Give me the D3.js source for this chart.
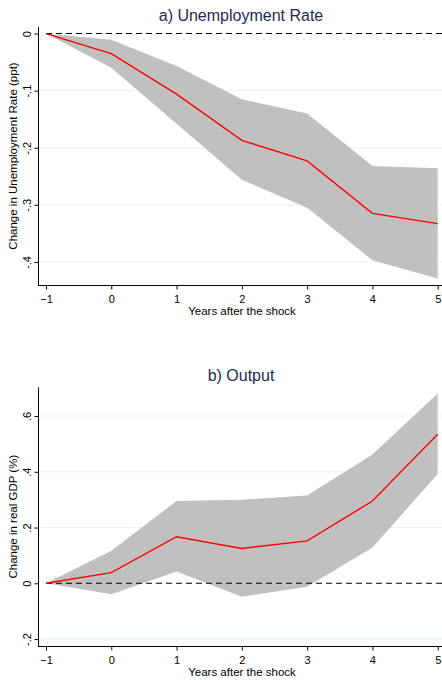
<!DOCTYPE html>
<html><head><meta charset="utf-8">
<script src="https://cdn.jsdelivr.net/npm/d3@7"></script>
<style>body{margin:0;background:#fff}svg{display:block}text{font-family:"Liberation Sans",Arial,sans-serif}</style>
</head><body>
<svg id="c" width="442" height="680"></svg>
<script>
const years = [-1, 0, 1, 2, 3, 4, 5];
const xTicks = [-1, 0, 1, 2, 3, 4, 5];

const unempMean  = [0, -0.035, -0.106, -0.187, -0.223, -0.315, -0.333];
const unempUpper = [0, -0.011, -0.057, -0.115, -0.140, -0.232, -0.236];
const unempLower = [0, -0.060, -0.158, -0.256, -0.305, -0.397, -0.429];
const unempTicks = [0, -0.1, -0.2, -0.3, -0.4];
const unempTickLabels = ["0", "-.1", "-.2", "-.3", "-.4"];

const gdpMean  = [0, 0.038, 0.167, 0.125, 0.152, 0.295, 0.535];
const gdpUpper = [0, 0.117, 0.295, 0.300, 0.315, 0.462, 0.681];
const gdpLower = [0, -0.039, 0.042, -0.048, -0.012, 0.128, 0.392];
const gdpTicks = [-0.2, 0, 0.2, 0.4, 0.6];
const gdpTickLabels = ["-.2", "0", ".2", ".4", ".6"];

const svg = d3.select("#c");

function panel(cfg) {
  const g = svg.append("g");
  const x = d3.scaleLinear().domain([-1, 5]).range([46, 437.7]);
  const y = d3.scaleLinear().domain(cfg.ydom).range([cfg.bottom, cfg.top]);
  const axisX = 38.5;

  // gridlines
  g.selectAll("line.grid").data(cfg.ticks.filter(t => t !== 0)).enter().append("line")
    .attr("x1", axisX).attr("x2", 442)
    .attr("y1", d => y(d)).attr("y2", d => y(d))
    .attr("stroke", "#eaf2f3").attr("stroke-width", 1);

  const data = years.map((yr, i) => ({yr, m: cfg.mean[i], lo: cfg.lower[i], hi: cfg.upper[i]}));

  // band
  g.append("path").datum(data)
    .attr("d", d3.area().x(d => x(d.yr)).y0(d => y(d.lo)).y1(d => y(d.hi)))
    .attr("fill", "#c0c0c0");

  // zero dashed line
  g.append("line")
    .attr("x1", x(-1)).attr("x2", 442)
    .attr("y1", y(0)).attr("y2", y(0))
    .attr("stroke", "#000").attr("stroke-width", 1.1)
    .attr("stroke-dasharray", "6,4");

  // mean line
  g.append("path").datum(data)
    .attr("d", d3.line().x(d => x(d.yr)).y(d => y(d.m)))
    .attr("fill", "none").attr("stroke", "#ff0000").attr("stroke-width", 1.4);

  // x axis
  const xa = g.append("g").attr("transform", `translate(0,${cfg.bottom + 0.5})`)
    .call(d3.axisBottom(x).tickValues(xTicks).tickSize(4).tickSizeOuter(0).tickFormat(d3.format("d")));
  xa.select(".domain").attr("d", `M${axisX - 0.5},0H442`).attr("stroke", "#000");
  xa.selectAll(".tick line").attr("stroke", "#000");
  xa.selectAll(".tick text").attr("font-size", 11).attr("fill", "#000").attr("dy", null).attr("y", 17)
    .attr("font-family", "Liberation Sans, Arial, sans-serif");

  // y axis
  const ya = g.append("g").attr("transform", `translate(${axisX},0)`)
    .call(d3.axisLeft(y).tickValues(cfg.ticks).tickSize(4).tickSizeOuter(0)
      .tickFormat((d) => cfg.tickLabels[cfg.ticks.indexOf(d)]));
  ya.select(".domain").attr("d", `M0,${cfg.top}V${cfg.bottom + 1}`).attr("stroke", "#000");
  ya.selectAll(".tick line").attr("stroke", "#000");
  ya.selectAll(".tick text").attr("font-size", 11).attr("fill", "#000")
    .attr("x", null).attr("dy", null)
    .attr("text-anchor", "middle")
    .attr("transform", "translate(-8,0) rotate(-90)")
    .attr("font-family", "Liberation Sans, Arial, sans-serif");

  // y title
  g.append("text")
    .attr("transform", `translate(16.5,${(cfg.top + cfg.bottom) / 2}) rotate(-90)`)
    .attr("text-anchor", "middle").attr("font-size", 11.5).attr("fill", "#000")
    .text(cfg.ytitle);

  // x title
  g.append("text")
    .attr("x", 242).attr("y", cfg.bottom + 30)
    .attr("text-anchor", "middle").attr("font-size", 11.5).attr("fill", "#000")
    .text("Years after the shock");

  // panel title
  g.append("text")
    .attr("x", 241).attr("y", cfg.titleY)
    .attr("text-anchor", "middle").attr("font-size", 16).attr("fill", "#1e2c52")
    .text(cfg.title);
}

panel({
  ydom: [-0.4404, 0.0115], top: 27, bottom: 285,
  mean: unempMean, upper: unempUpper, lower: unempLower,
  ticks: unempTicks, tickLabels: unempTickLabels,
  ytitle: "Change in Unemployment Rate (ppt)",
  title: "a) Unemployment Rate", titleY: 21
});

panel({
  ydom: [-0.2249, 0.703], top: 387.3, bottom: 646,
  mean: gdpMean, upper: gdpUpper, lower: gdpLower,
  ticks: gdpTicks, tickLabels: gdpTickLabels,
  ytitle: "Change in real GDP (%)",
  title: "b) Output", titleY: 381
});
</script>
</body></html>
